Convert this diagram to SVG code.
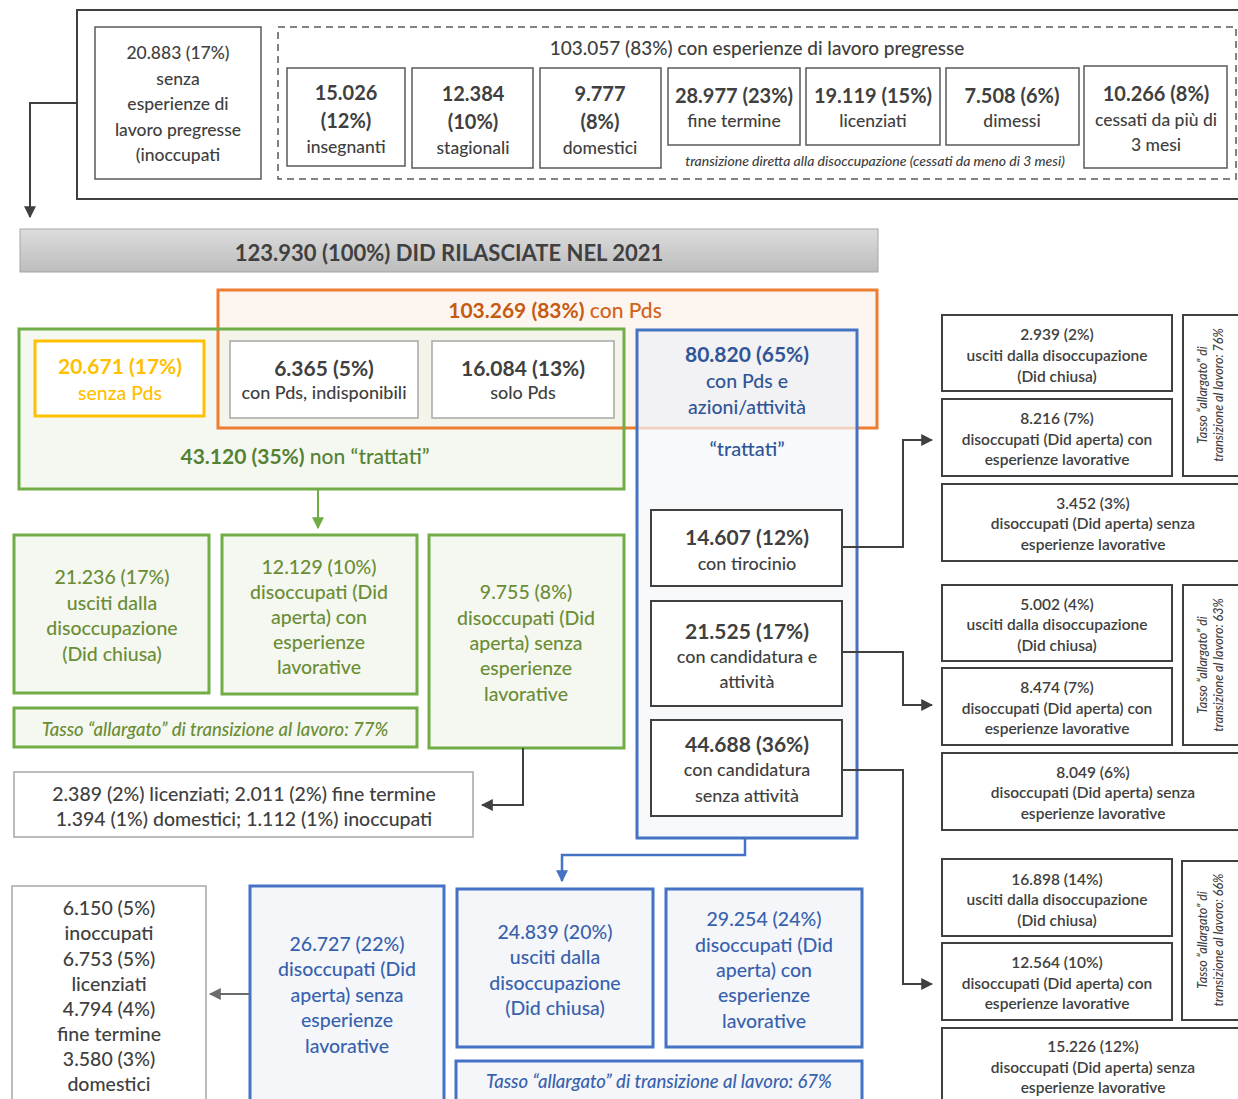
<svg xmlns="http://www.w3.org/2000/svg" width="1238" height="1099" viewBox="0 0 1238 1099">
<defs>
<linearGradient id="gbar" x1="0" y1="0" x2="0" y2="1">
<stop offset="0" stop-color="#dcdcdc"/><stop offset="1" stop-color="#bdbdbd"/>
</linearGradient>
<marker id="ah" viewBox="0 0 10 10" refX="9" refY="5" markerWidth="12" markerHeight="12" markerUnits="userSpaceOnUse" orient="auto"><path d="M0,0 L10,5 L0,10 z" fill="#404040"/></marker>
<marker id="ahg" viewBox="0 0 10 10" refX="9" refY="5" markerWidth="12" markerHeight="12" markerUnits="userSpaceOnUse" orient="auto"><path d="M0,0 L10,5 L0,10 z" fill="#70ad47"/></marker>
<marker id="ahb" viewBox="0 0 10 10" refX="9" refY="5" markerWidth="12" markerHeight="12" markerUnits="userSpaceOnUse" orient="auto"><path d="M0,0 L10,5 L0,10 z" fill="#4472c4"/></marker>
<marker id="ahl" viewBox="0 0 10 10" refX="9" refY="5" markerWidth="12" markerHeight="12" markerUnits="userSpaceOnUse" orient="auto"><path d="M0,0 L10,5 L0,10 z" fill="#6b6b6b"/></marker>
</defs>
<style>
text{font-family:Lato,"Liberation Sans",sans-serif;text-anchor:middle;dominant-baseline:central;font-weight:500}
text:not([fill]){fill:#404040}
.b{font-weight:bold}
.tn{font-size:20px;font-weight:bold}
.tb{font-size:17.5px}
.bd{font-size:19.5px}
.md{font-size:18px}
.box{fill:#fff;stroke:#595959;stroke-width:1.5}
.dk{fill:#fff;stroke:#404040;stroke-width:2}
.lg{fill:#fff;stroke:#a6a6a6;stroke-width:1.5}
.gbx{fill:#f4f8f0;stroke:#70ad47;stroke-width:3}
.gt{font-size:19.5px}
.bbx{fill:#f5f6fa;stroke:#4472c4;stroke-width:3}
.bt{font-size:19.5px}
.rt{font-size:15.5px;font-weight:600}
.vt{font-size:12.5px;font-style:italic}
.cn{fill:none;stroke:#404040;stroke-width:2}
</style>

<g id="top-frame">
<rect x="77" y="10" width="1170" height="189" fill="#fff" stroke="#404040" stroke-width="2"/>
</g>
<g id="inoccupati-top">
<rect class="box" x="95" y="27" width="166" height="152"/>
<text class="tb" x="178" y="52" font-size="19">20.883 (17%)</text>
<text class="tb" x="178" y="78">senza</text>
<text class="tb" x="178" y="103">esperienze di</text>
<text class="tb" x="178" y="129">lavoro pregresse</text>
<text class="tb" x="178" y="154">(inoccupati</text>
</g>
<g id="pregresse">
<rect x="278" y="27" width="958" height="152" fill="none" stroke="#595959" stroke-width="1.5" stroke-dasharray="7,5"/>
<text x="757" y="47" font-size="19">103.057 (83%) con esperienze di lavoro pregresse</text>
<text x="875" y="160" font-size="14" font-style="italic">transizione diretta alla disoccupazione (cessati da meno di 3 mesi)</text>
</g>
<g id="insegnanti"><rect class="box" x="287" y="68" width="118" height="98"/>
<text class="tn" x="346" y="92">15.026</text><text class="tn" x="346" y="120">(12%)</text><text class="tb" x="346" y="146">insegnanti</text></g>
<g id="stagionali"><rect class="box" x="412" y="68" width="121" height="100"/>
<text class="tn" x="473" y="93">12.384</text><text class="tn" x="473" y="121">(10%)</text><text class="tb" x="473" y="147">stagionali</text></g>
<g id="domestici"><rect class="box" x="540" y="68" width="121" height="100"/>
<text class="tn" x="600" y="93">9.777</text><text class="tn" x="600" y="121">(8%)</text><text class="tb" x="600" y="147">domestici</text></g>
<g id="fine-termine"><rect class="box" x="668" y="68" width="132" height="77"/>
<text class="tn" x="734" y="95">28.977 (23%)</text><text class="tb" x="734" y="120">fine termine</text></g>
<g id="licenziati"><rect class="box" x="806" y="68" width="134" height="77"/>
<text class="tn" x="873" y="95">19.119 (15%)</text><text class="tb" x="873" y="120">licenziati</text></g>
<g id="dimessi"><rect class="box" x="946" y="68" width="133" height="77"/>
<text class="tn" x="1012" y="95">7.508 (6%)</text><text class="tb" x="1012" y="120">dimessi</text></g>
<g id="cessati"><rect class="box" x="1084" y="66" width="143" height="102"/>
<text class="tn" x="1156" y="93">10.266 (8%)</text><text class="tb" x="1156" y="119">cessati da più di</text><text class="tb" x="1156" y="144">3 mesi</text></g>

<g id="did-totale">
<rect x="20" y="229" width="858" height="43" fill="url(#gbar)" stroke="#a6a6a6" stroke-width="1"/>
<text class="b" x="449" y="252" font-size="22">123.930 (100%) DID RILASCIATE NEL 2021</text>
</g>

<g id="con-pds">
<rect x="218" y="290" width="659" height="138" fill="#fdf5ef"/>
</g>
<g id="non-trattati">
<rect x="19" y="329" width="605" height="160" fill="#eef4e8" fill-opacity="0.6"/>
<rect x="218" y="290" width="659" height="138" fill="none" stroke="#ed7d31" stroke-width="3"/>
<rect x="19" y="329" width="605" height="160" fill="none" stroke="#70ad47" stroke-width="3"/>
<text x="555" y="309" font-size="21" fill="#d2641c"><tspan class="b" fill="#c55a11">103.269 (83%)</tspan> con Pds</text>
<text x="305" y="455" font-size="21" fill="#548235"><tspan class="b" fill="#548235">43.120 (35%)</tspan> non “trattati”</text>
</g>
<g id="senza-pds"><rect x="35" y="341" width="169" height="75" fill="#fff" stroke="#ffc000" stroke-width="3"/>
<text class="b" x="120" y="365" font-size="21" fill="#ffc000">20.671 (17%)</text><text x="120" y="392" font-size="19.5" fill="#ffc000">senza Pds</text></g>
<g id="indisponibili"><rect class="lg" x="230" y="341" width="188" height="77" stroke-width="2"/>
<text class="b" x="324" y="367" font-size="21">6.365 (5%)</text><text class="md" x="324" y="392">con Pds, indisponibili</text></g>
<g id="solo-pds"><rect class="lg" x="432" y="341" width="182" height="77" stroke-width="2"/>
<text class="b" x="523" y="367" font-size="21">16.084 (13%)</text><text class="md" x="523" y="392" font-size="19">solo Pds</text></g>

<g id="trattati">
<rect x="637" y="330" width="220" height="508" fill="#f5f6fa" fill-opacity="0.7" stroke="#4472c4" stroke-width="3"/>
<rect x="639" y="332" width="216" height="95" fill="#eeeef2" fill-opacity="0.6"/>
<text class="b" x="747" y="353" font-size="21" fill="#2f5597">80.820 (65%)</text>
<text x="747" y="380" font-size="19.5" fill="#2f5597">con Pds e</text>
<text x="747" y="406" font-size="19.5" fill="#2f5597">azioni/attività</text>
<text x="747" y="448" font-size="20" fill="#2f5597">“trattati”</text>
</g>
<g id="tirocinio"><rect class="dk" x="651" y="510" width="191" height="76"/>
<text class="b" x="747" y="536" font-size="21">14.607 (12%)</text><text class="md" x="747" y="563">con tirocinio</text></g>
<g id="candidatura-attivita"><rect class="dk" x="651" y="601" width="191" height="105"/>
<text class="b" x="747" y="630" font-size="21">21.525 (17%)</text><text class="md" x="747" y="656" font-size="18.5">con candidatura e</text><text class="md" x="747" y="681">attività</text></g>
<g id="candidatura-senza"><rect class="dk" x="651" y="720" width="191" height="96"/>
<text class="b" x="747" y="743" font-size="21">44.688 (36%)</text><text class="md" x="747" y="769" font-size="18.5">con candidatura</text><text class="md" x="747" y="795" font-size="18.5">senza attività</text></g>

<g id="g-usciti"><rect class="gbx" x="14" y="535" width="195" height="158"/>
<text class="gt" x="112" y="576" fill="#6b8d36">21.236 (17%)</text><text class="gt" x="112" y="602" fill="#6b8d36">usciti dalla</text><text class="gt" x="112" y="627" fill="#6b8d36">disoccupazione</text><text class="gt" x="112" y="653" fill="#6b8d36">(Did chiusa)</text></g>
<g id="g-con-esp"><rect class="gbx" x="222" y="535" width="195" height="159"/>
<text class="gt" x="319" y="566" fill="#6b8d36">12.129 (10%)</text><text class="gt" x="319" y="591" fill="#6b8d36">disoccupati (Did</text><text class="gt" x="319" y="616" fill="#6b8d36">aperta) con</text><text class="gt" x="319" y="641" fill="#6b8d36">esperienze</text><text class="gt" x="319" y="666" fill="#6b8d36">lavorative</text></g>
<g id="g-senza-esp"><rect class="gbx" x="429" y="535" width="195" height="213"/>
<text class="gt" x="526" y="591" fill="#6b8d36">9.755 (8%)</text><text class="gt" x="526" y="617" fill="#6b8d36">disoccupati (Did</text><text class="gt" x="526" y="642" fill="#6b8d36">aperta) senza</text><text class="gt" x="526" y="667" fill="#6b8d36">esperienze</text><text class="gt" x="526" y="693" fill="#6b8d36">lavorative</text></g>
<g id="g-tasso"><rect class="gbx" x="14" y="708" width="403" height="39"/>
<text x="215" y="729" font-size="18.5" font-style="italic" fill="#6b8d36">Tasso “allargato” di transizione al lavoro: 77%</text></g>
<g id="g-dettaglio"><rect class="lg" x="14" y="772" width="459" height="65"/>
<text class="bd" x="244" y="793">2.389 (2%) licenziati; 2.011 (2%) fine termine</text>
<text class="bd" x="244" y="818">1.394 (1%) domestici; 1.112 (1%) inoccupati</text></g>

<g id="b-dettaglio"><rect class="lg" x="12" y="886" width="194" height="220"/>
<text class="bd" x="109" y="907">6.150 (5%)</text><text class="bd" x="109" y="932">inoccupati</text>
<text class="bd" x="109" y="958">6.753 (5%)</text><text class="bd" x="109" y="983">licenziati</text>
<text class="bd" x="109" y="1008">4.794 (4%)</text><text class="bd" x="109" y="1033">fine termine</text>
<text class="bd" x="109" y="1058">3.580 (3%)</text><text class="bd" x="109" y="1083">domestici</text></g>
<g id="b-senza-esp"><rect class="bbx" x="250" y="886" width="194" height="220"/>
<text class="bt" x="347" y="943" fill="#3862ad">26.727 (22%)</text><text class="bt" x="347" y="968" fill="#3862ad">disoccupati (Did</text><text class="bt" x="347" y="994" fill="#3862ad">aperta) senza</text><text class="bt" x="347" y="1019" fill="#3862ad">esperienze</text><text class="bt" x="347" y="1045" fill="#3862ad">lavorative</text></g>
<g id="b-usciti"><rect class="bbx" x="457" y="889" width="196" height="158"/>
<text class="bt" x="555" y="931" fill="#3862ad">24.839 (20%)</text><text class="bt" x="555" y="956" fill="#3862ad">usciti dalla</text><text class="bt" x="555" y="982" fill="#3862ad">disoccupazione</text><text class="bt" x="555" y="1007" fill="#3862ad">(Did chiusa)</text></g>
<g id="b-con-esp"><rect class="bbx" x="666" y="889" width="196" height="158"/>
<text class="bt" x="764" y="918" fill="#3862ad">29.254 (24%)</text><text class="bt" x="764" y="944" fill="#3862ad">disoccupati (Did</text><text class="bt" x="764" y="969" fill="#3862ad">aperta) con</text><text class="bt" x="764" y="994" fill="#3862ad">esperienze</text><text class="bt" x="764" y="1020" fill="#3862ad">lavorative</text></g>
<g id="b-tasso"><rect class="bbx" x="456" y="1061" width="406" height="45"/>
<text x="659" y="1081" font-size="18.5" font-style="italic" fill="#3862ad">Tasso “allargato” di transizione al lavoro: 67%</text></g>

<g id="r1-usciti"><rect class="dk" x="942" y="315" width="230" height="76"/>
<text class="rt" x="1057" y="334">2.939 (2%)</text><text class="rt" x="1057" y="355">usciti dalla disoccupazione</text><text class="rt" x="1057" y="376">(Did chiusa)</text></g>
<g id="r1-con"><rect class="dk" x="942" y="399" width="230" height="77"/>
<text class="rt" x="1057" y="418">8.216 (7%)</text><text class="rt" x="1057" y="439">disoccupati (Did aperta) con</text><text class="rt" x="1057" y="459">esperienze lavorative</text></g>
<g id="r1-senza"><rect class="dk" x="942" y="484" width="310" height="77"/>
<text class="rt" x="1093" y="503">3.452 (3%)</text><text class="rt" x="1093" y="523">disoccupati (Did aperta) senza</text><text class="rt" x="1093" y="544">esperienze lavorative</text></g>
<g id="r1-tasso"><rect class="dk" x="1183" y="315" width="70" height="161"/>
<text class="vt" transform="translate(1210,395) rotate(-90)"><tspan x="0" y="-8">Tasso “allargato” di</tspan><tspan x="0" y="8">transizione al lavoro: 76%</tspan></text></g>

<g id="r2-usciti"><rect class="dk" x="942" y="585" width="230" height="76"/>
<text class="rt" x="1057" y="604">5.002 (4%)</text><text class="rt" x="1057" y="624">usciti dalla disoccupazione</text><text class="rt" x="1057" y="645">(Did chiusa)</text></g>
<g id="r2-con"><rect class="dk" x="942" y="668" width="230" height="77"/>
<text class="rt" x="1057" y="687">8.474 (7%)</text><text class="rt" x="1057" y="708">disoccupati (Did aperta) con</text><text class="rt" x="1057" y="728">esperienze lavorative</text></g>
<g id="r2-senza"><rect class="dk" x="942" y="753" width="310" height="77"/>
<text class="rt" x="1093" y="772">8.049 (6%)</text><text class="rt" x="1093" y="792">disoccupati (Did aperta) senza</text><text class="rt" x="1093" y="813">esperienze lavorative</text></g>
<g id="r2-tasso"><rect class="dk" x="1183" y="585" width="70" height="160"/>
<text class="vt" transform="translate(1210,665) rotate(-90)"><tspan x="0" y="-8">Tasso “allargato” di</tspan><tspan x="0" y="8">transizione al lavoro: 63%</tspan></text></g>

<g id="r3-usciti"><rect class="dk" x="942" y="859" width="230" height="77"/>
<text class="rt" x="1057" y="879">16.898 (14%)</text><text class="rt" x="1057" y="899">usciti dalla disoccupazione</text><text class="rt" x="1057" y="920">(Did chiusa)</text></g>
<g id="r3-con"><rect class="dk" x="942" y="943" width="230" height="77"/>
<text class="rt" x="1057" y="962">12.564 (10%)</text><text class="rt" x="1057" y="983">disoccupati (Did aperta) con</text><text class="rt" x="1057" y="1003">esperienze lavorative</text></g>
<g id="r3-senza"><rect class="dk" x="942" y="1028" width="310" height="80"/>
<text class="rt" x="1093" y="1046">15.226 (12%)</text><text class="rt" x="1093" y="1067">disoccupati (Did aperta) senza</text><text class="rt" x="1093" y="1087">esperienze lavorative</text></g>
<g id="r3-tasso"><rect class="dk" x="1182" y="861" width="70" height="159"/>
<text class="vt" transform="translate(1210,940) rotate(-90)"><tspan x="0" y="-8">Tasso “allargato” di</tspan><tspan x="0" y="8">transizione al lavoro: 66%</tspan></text></g>

<g id="connectors">
<path class="cn" d="M77,103 H30 V217" marker-end="url(#ah)"/>
<path d="M318,489 V528" fill="none" stroke="#70ad47" stroke-width="2" marker-end="url(#ahg)"/>
<path class="cn" d="M523,748 V805 H482" marker-end="url(#ah)"/>
<path d="M745,838 V855 H562 V881" fill="none" stroke="#4472c4" stroke-width="2.5" marker-end="url(#ahb)"/>
<path d="M250,994 H210" fill="none" stroke="#6b6b6b" stroke-width="2" marker-end="url(#ahl)"/>
<path class="cn" d="M842,547 H903 V440 H932" marker-end="url(#ah)"/>
<path class="cn" d="M842,652 H903 V705 H932" marker-end="url(#ah)"/>
<path class="cn" d="M842,770 H903 V984 H932" stroke-width="3" marker-end="url(#ah)"/>
</g>
</svg>
